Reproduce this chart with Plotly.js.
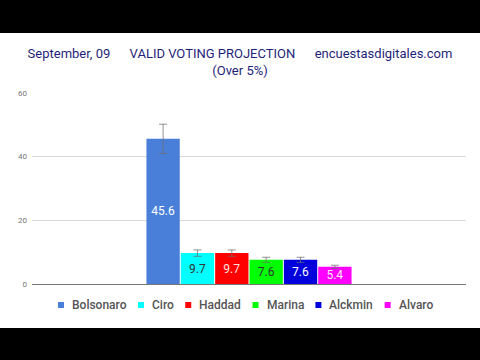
<!DOCTYPE html>
<html><head><meta charset="utf-8">
<script src="https://cdn.plot.ly/plotly-3.0.1.min.js"></script>
<style>
html,body{margin:0;padding:0;background:#000;width:480px;height:360px;overflow:hidden}
#chart{position:absolute;left:0;top:33px;width:480px;height:295px;background:#fff}
</style>
</head><body><div id="chart"></div>
<script>
// ---- data ----
const candidates = ['Bolsonaro', 'Ciro', 'Haddad', 'Marina', 'Alckmin', 'Alvaro'];
const values = [45.6, 9.7, 9.7, 7.6, 7.6, 5.4];
const errors = [4.6, 1.0, 1.0, 0.8, 0.8, 0.5];
const valueLabels = ['45.6', '9.7', '9.7', '7.6', '7.6', '5.4'];
const yTickVals = [0, 20, 40, 60];
const yTickText = ['0', '20', '40', '60'];

// ---- styles ----
const barColors = ['#4a7fd9', '#00ffff', '#ff0000', '#00ff00', '#0000dd', '#ff00ff'];
const labelColors = ['#ffffff', '#333333', '#ffe0e0', '#333333', '#ffffff', '#ffe8ff'];

const W = 480, H = 295, M = {l: 32, r: 14, t: 60, b: 44};
const PW = W - M.l - M.r, PH = H - M.t - M.b;
const px2x = px => (px - M.l) / PW;
const py2y = py => (H - M.b - py) / PH;   // py in div pixels

const traces = candidates.map((name, i) => ({
  type: 'bar',
  name: name,
  x: ['v'],
  y: [values[i]],
  text: [valueLabels[i]],
  textposition: 'inside',
  insidetextanchor: 'middle',
  constraintext: 'none',
  textfont: {family: 'Roboto', size: 12, color: labelColors[i]},
  marker: {color: barColors[i], line: {width: 0}},
  error_y: {type: 'data', array: [errors[i]], visible: true, color: 'rgba(110,110,110,0.75)', thickness: 1, width: 4},
  showlegend: false,
  hoverinfo: 'none'
}));

// custom legend (small squares, tight spacing)
const ctx = document.createElement('canvas').getContext('2d');
const legendFont = 12;
ctx.font = '500 ' + legendFont + 'px Roboto';
const shapes = [];
const annotations = [];
let lx = 58;
const legendY = 272;
candidates.forEach((name, i) => {
  shapes.push({type: 'rect', xref: 'paper', yref: 'paper',
    x0: px2x(lx), x1: px2x(lx + 6), y0: py2y(legendY + 3), y1: py2y(legendY - 3),
    fillcolor: barColors[i], line: {width: 0}});
  const tx = lx + 13;
  annotations.push({xref: 'paper', yref: 'paper', x: px2x(tx), y: py2y(legendY),
    xanchor: 'left', yanchor: 'middle', showarrow: false, text: name, borderpad: 0,
    font: {family: 'Roboto', size: legendFont, color: '#555555', weight: 500}});
  lx = tx + ctx.measureText(name).width + 12.5;
});

const sp = '\u00a0'.repeat(6);
const layout = {
  width: W, height: H,
  margin: M,
  paper_bgcolor: '#ffffff', plot_bgcolor: '#ffffff',
  title: {
    text: 'September, 09' + sp + 'VALID VOTING PROJECTION' + sp + 'encuestasdigitales.com<br>(Over 5%)',
    font: {family: 'Roboto', size: 13, color: '#1f1f7a'},
    x: 0.5, xanchor: 'center', xref: 'container',
    y: 1 - 25 / H, yanchor: 'top', yref: 'container'
  },
  barmode: 'group',
  bargap: 0.525,
  bargroupgap: 0.03,
  xaxis: {type: 'category', range: [-0.5, 0.5], showticklabels: false, showgrid: false,
          zeroline: false, showline: false, ticks: '', fixedrange: true},
  yaxis: {range: [0, 60], tickvals: yTickVals, ticktext: yTickText,
          tickfont: {family: 'Roboto', size: 8, color: '#777777'},
          showgrid: true, gridcolor: '#d9d9d9', gridwidth: 1,
          zeroline: true, zerolinecolor: '#777777', zerolinewidth: 1,
          showline: false, ticks: '', ticklabelstandoff: 4, fixedrange: true},
  shapes: shapes,
  annotations: annotations,
  showlegend: false,
  font: {family: 'Roboto'}
};

Plotly.newPlot('chart', traces, layout, {displayModeBar: false, staticPlot: true});
</script>
</body></html>
